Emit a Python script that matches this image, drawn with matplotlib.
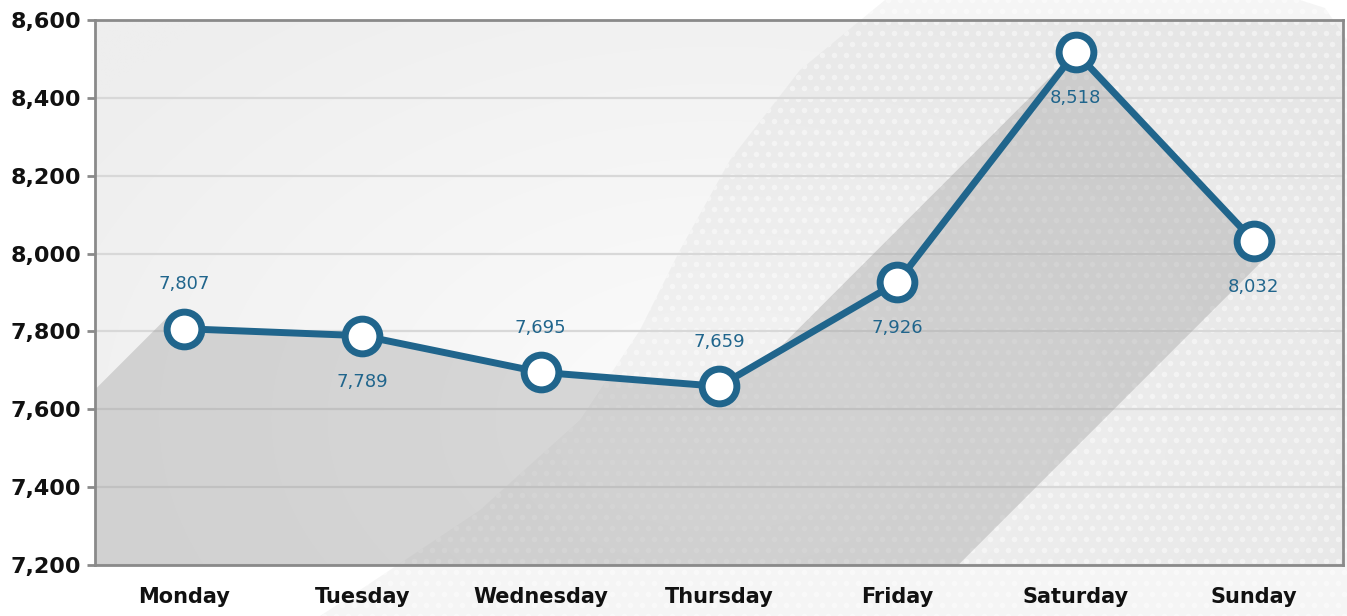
import numpy as np
import matplotlib.pyplot as plt
from matplotlib.patches import Polygon, PathPatch
from matplotlib.path import Path

days = ['Monday', 'Tuesday', 'Wednesday', 'Thursday', 'Friday', 'Saturday', 'Sunday']
visits = [7807, 7789, 7695, 7659, 7926, 8518, 8032]
label_side = ['above', 'below', 'above', 'above', 'below', 'below', 'below']
y_ticks = [7200, 7400, 7600, 7800, 8000, 8200, 8400, 8600]

BLUE = '#20658c'
W, H = 1347, 616

fig = plt.figure(figsize=(W / 100, H / 100), dpi=100)

# background layer in pixel coordinates (y down)
bg = fig.add_axes([0, 0, 1, 1], zorder=0)
bg.set_xlim(0, W)
bg.set_ylim(H, 0)
bg.axis('off')

px0, px1, py0, py1 = 95, 1343, 20, 565
gx, gy = np.meshgrid(np.linspace(px0, px1, 300), np.linspace(py0, py1, 150))
r = np.hypot((gx - 720) / 900, (gy - 420) / 600)
shade = np.clip(252 - 16 * r, 238, 252) / 255
bg.imshow(np.dstack([shade] * 3), extent=[px0, px1, py1, py0], aspect='auto',
          interpolation='bilinear', zorder=0)

# big halftone swoosh behind the chart
band = [(885, 0), (800, 70), (730, 160), (680, 250), (640, 330), (580, 420),
        (480, 510), (360, 590), (320, 616), (W, 616), (W, 40), (1325, 8), (1300, 0)]
band_patch = Polygon(band, closed=True, facecolor='#b4b4b4', alpha=0.13,
                     edgecolor='none', zorder=1)
bg.add_patch(band_patch)
dx, dy = np.meshgrid(np.arange(0, W + 12, 12.0), np.arange(0, H + 12, 11.0))
dx[1::2] += 6
dots = bg.scatter(dx.ravel(), dy.ravel(), s=16, c='white', alpha=0.45,
                  linewidths=0, zorder=2)
dots.set_clip_path(band_patch)

# main chart
ax = fig.add_axes([px0 / W, 1 - py1 / H, (px1 - px0) / W, (py1 - py0) / H], zorder=1)
ax.set_facecolor('none')
x = np.arange(len(days))
ax.set_xlim(-0.5, len(days) - 0.5)
ax.set_ylim(y_ticks[0], y_ticks[-1])

# long diagonal shadow cast by the line and its end markers
pts = ax.transData.transform(np.column_stack([x, visits]))
rad = 20 / np.sqrt(2)
pts = np.vstack([pts[0] + [-rad, rad], pts, pts[-1] + [rad, -rad]])
shift = np.array([-2000.0, -2000.0])
verts, codes = [], []
for a, b in zip(pts[:-1], pts[1:]):
    quad = [a, b, b + shift, a + shift]
    area = sum(p[0] * q[1] - q[0] * p[1] for p, q in zip(quad, quad[1:] + quad[:1]))
    if area < 0:
        quad = quad[::-1]
    verts += quad + [quad[0]]
    codes += [Path.MOVETO, Path.LINETO, Path.LINETO, Path.LINETO, Path.CLOSEPOLY]
verts = ax.transData.inverted().transform(np.array(verts))
ax.add_patch(PathPatch(Path(verts, codes), facecolor='#9c9c9c', alpha=0.37,
                       edgecolor='none', zorder=1.5))

ax.plot(x, visits, color=BLUE, lw=5, zorder=3, solid_capstyle='round')
ax.plot(x, visits, 'o', ms=25, mfc='white', mec=BLUE, mew=5, zorder=4)

for xi, v, side in zip(x, visits, label_side):
    off = 32 if side == 'above' else -33
    ax.annotate(f'{v:,}', (xi, v), xytext=(0, off), textcoords='offset points',
                ha='center', va='center', color=BLUE, fontsize=13,
                family='DejaVu Sans', zorder=5)

ax.set_yticks(y_ticks)
ax.set_yticklabels([f'{t:,}' for t in y_ticks])
ax.set_xticks(x)
ax.set_xticklabels(days)
ax.yaxis.grid(True, color='#d8d8d8', lw=1.6)
ax.set_axisbelow(True)
for s in ax.spines.values():
    s.set_color('#8a8a8a')
    s.set_linewidth(2)
ax.tick_params(axis='y', length=6, width=2, color='#8a8a8a', pad=4,
               labelsize=16, labelcolor='#111111')
ax.tick_params(axis='x', length=0, pad=16, labelsize=15, labelcolor='#111111')
for t in ax.get_yticklabels() + ax.get_xticklabels():
    t.set_fontweight('bold')

fig.savefig('out.png')
